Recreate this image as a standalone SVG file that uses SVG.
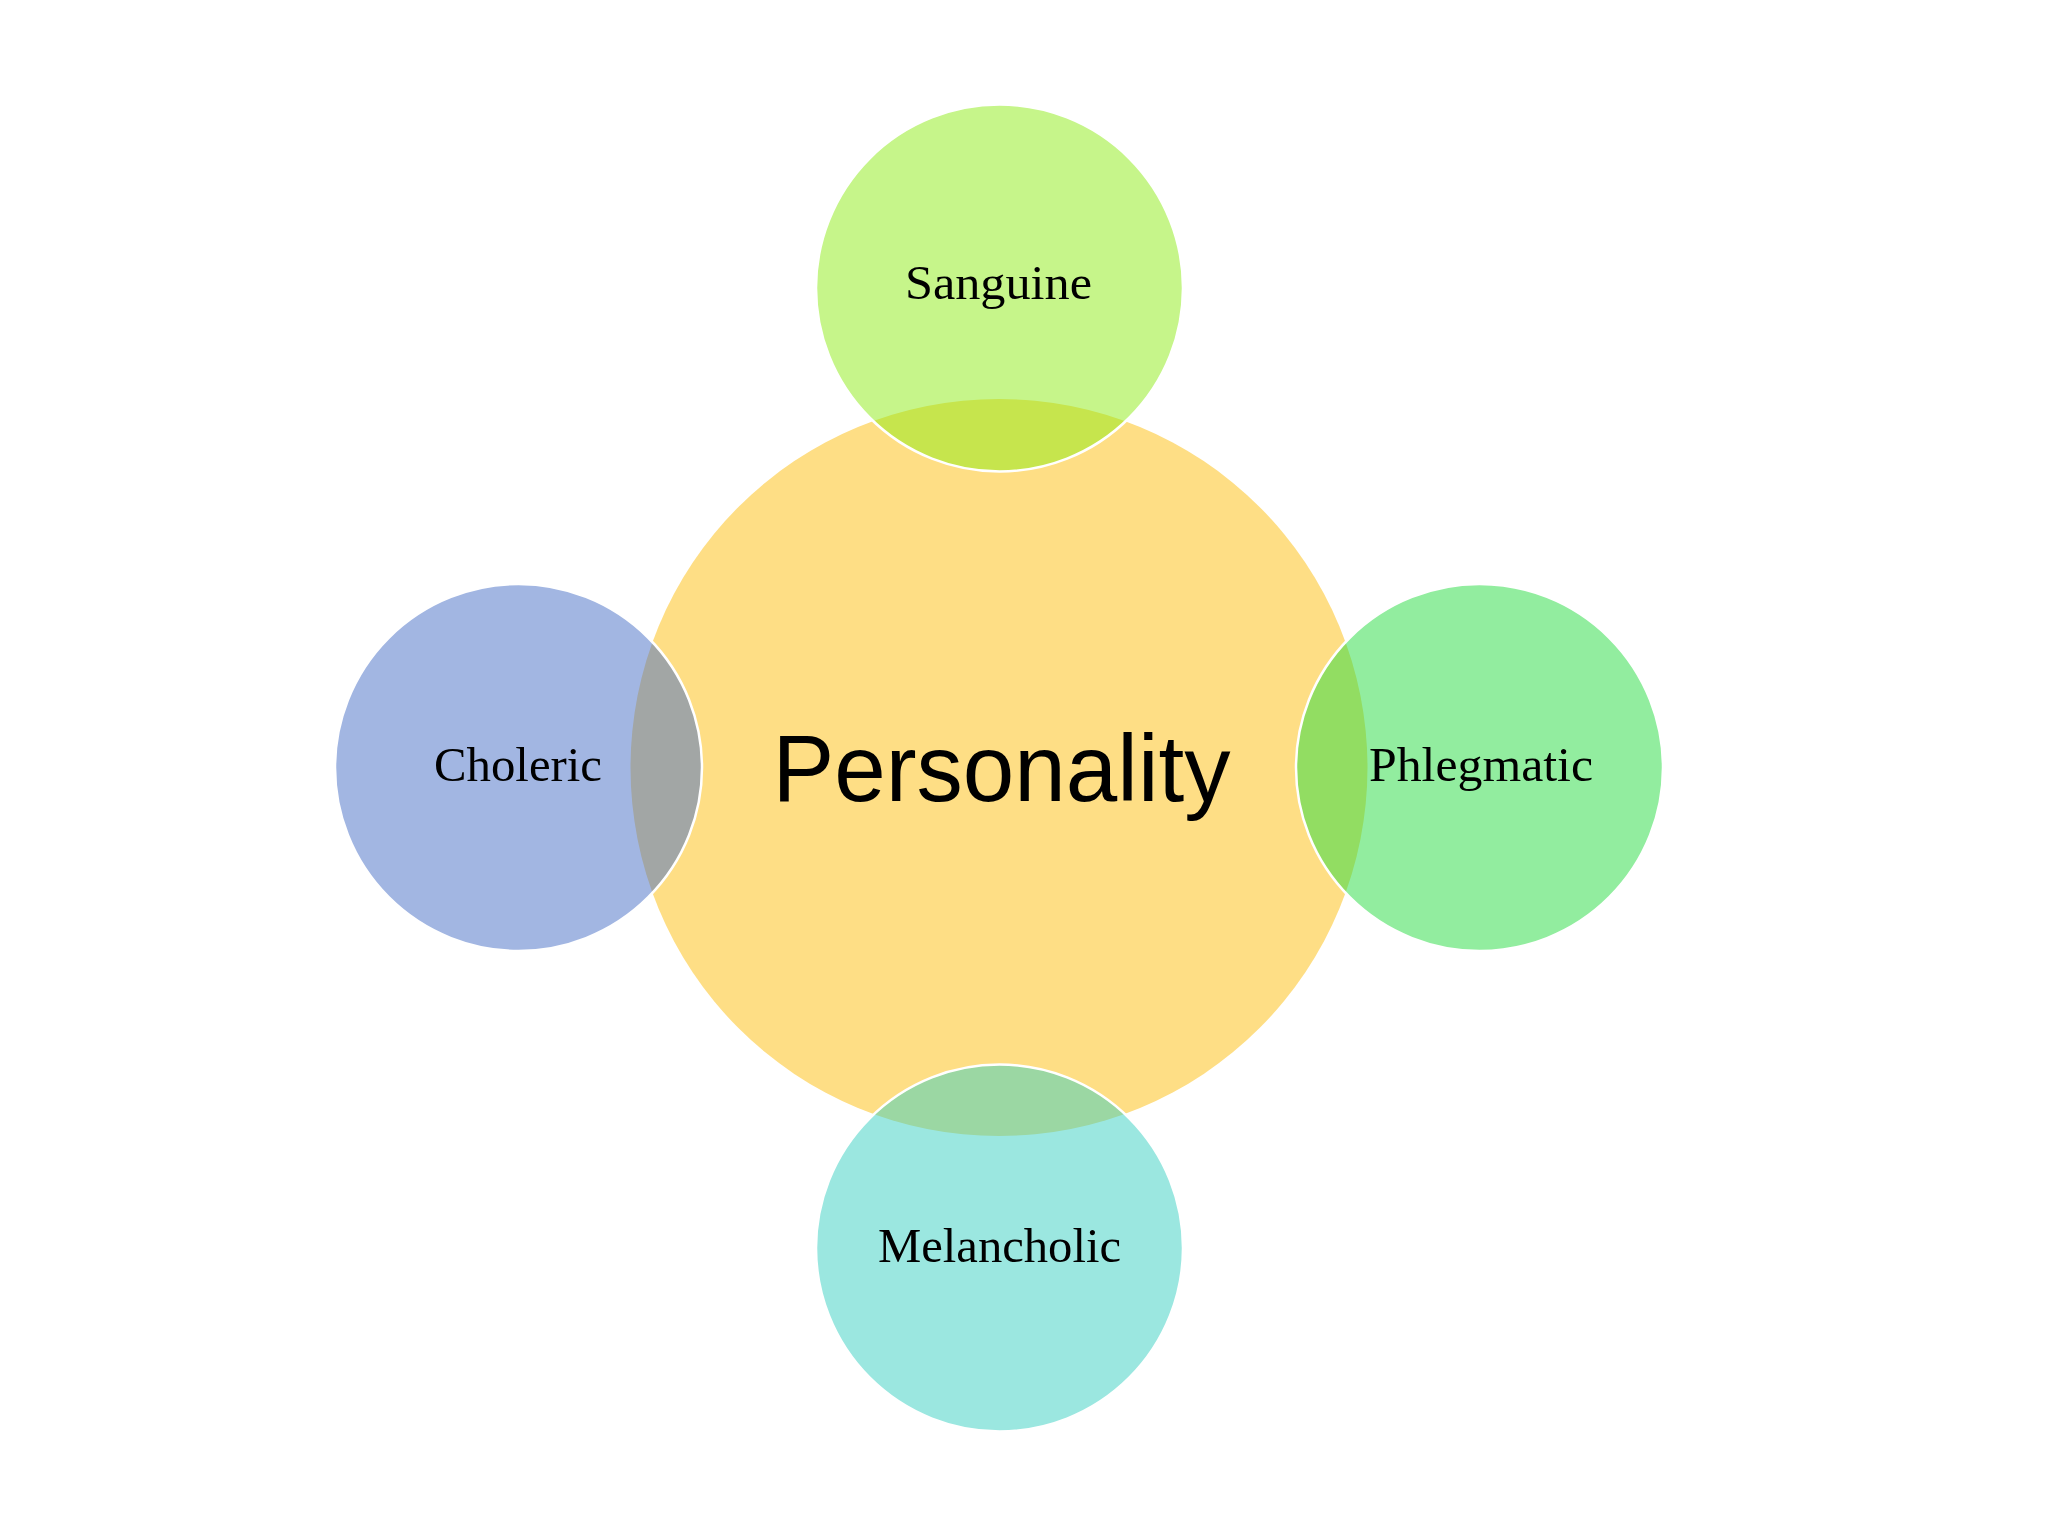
<svg xmlns="http://www.w3.org/2000/svg" width="2048" height="1536" viewBox="0 0 2048 1536">
<style>
.sat{stroke:#ffffff;stroke-width:2.5;fill-opacity:0.5}
.lbl{font-family:"Liberation Serif","Times New Roman",serif;font-size:48px;fill:#000;text-anchor:middle}
.main{font-family:"Liberation Sans",Arial,sans-serif;font-size:95px;fill:#000;text-anchor:middle}
</style>
<rect x="0" y="0" width="2048" height="1536" fill="#ffffff"/>
<g id="personality">
<circle cx="999" cy="767.5" r="368.5" fill="#FEDE85"/>
<text class="main" x="1001.5" y="801" textLength="458" lengthAdjust="spacingAndGlyphs">Personality</text>
</g>
<g id="sanguine">
<circle class="sat" cx="999.5" cy="288" r="183.5" fill="#8DEB15"/>
<text class="lbl" x="998.5" y="299" textLength="187" lengthAdjust="spacingAndGlyphs">Sanguine</text>
</g>
<g id="choleric">
<circle class="sat" cx="518.5" cy="767.5" r="183.5" fill="#456DC5"/>
<text class="lbl" x="518" y="781" textLength="168" lengthAdjust="spacingAndGlyphs">Choleric</text>
</g>
<g id="phlegmatic">
<circle class="sat" cx="1479.5" cy="767.5" r="183.5" fill="#25DB3F"/>
<text class="lbl" x="1481" y="781" textLength="224" lengthAdjust="spacingAndGlyphs">Phlegmatic</text>
</g>
<g id="melancholic">
<circle class="sat" cx="999.5" cy="1248" r="183.5" fill="#37CFC1"/>
<text class="lbl" x="999.5" y="1262" textLength="243" lengthAdjust="spacingAndGlyphs">Melancholic</text>
</g>
<g id="connectors"></g>
</svg>
